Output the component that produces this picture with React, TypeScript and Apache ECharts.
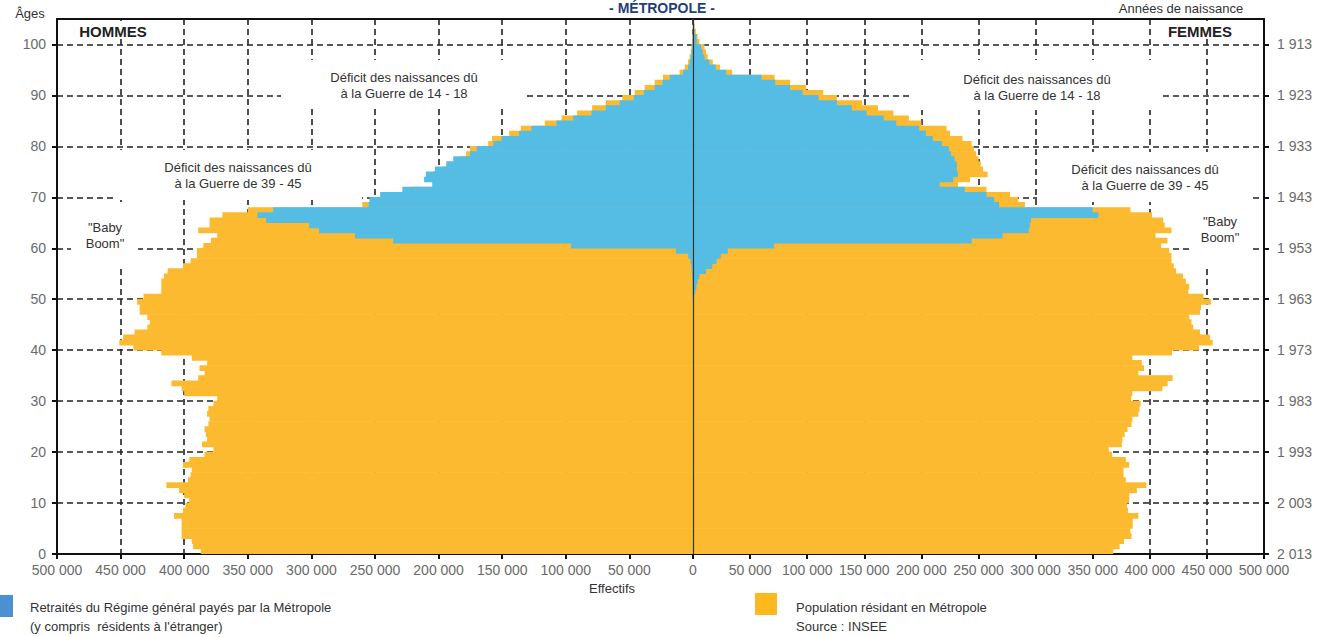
import React, { useEffect, useRef } from "react";
import * as echarts from "echarts";

// ---------- DATA ----------
const AGES: string[] = [
  "0","1","2","3","4","5","6","7","8","9","10","11","12","13","14","15","16","17","18","19",
  "20","21","22","23","24","25","26","27","28","29","30","31","32","33","34","35","36","37","38","39",
  "40","41","42","43","44","45","46","47","48","49","50","51","52","53","54","55","56","57","58","59",
  "60","61","62","63","64","65","66","67","68","69","70","71","72","73","74","75","76","77","78","79",
  "80","81","82","83","84","85","86","87","88","89","90","91","92","93","94","95","96","97","98","99",
  "100","101","102","103","104",
];
const AGE_TICKS = [0, 10, 20, 30, 40, 50, 60, 70, 80, 90, 100];
const REFERENCE_YEAR = 2013;

// values in thousands, ages 0 .. 104
const menPopulation = [
  387, 393, 394, 402, 402, 402, 402, 408, 401, 399,
  396, 400, 404, 414, 397, 395, 394, 401, 396, 384,
  377, 386, 382, 383, 384, 381, 380, 382, 381, 377,
  374, 400, 402, 410, 389, 384, 388, 382, 394, 418,
  440, 451, 448, 439, 429, 427, 429, 435, 435, 437,
  432, 418, 418, 418, 416, 413, 401, 395, 390, 390,
  385, 379, 374, 389, 380, 380, 370, 350, 260, 250,
  240, 222, 200, 205, 204, 197, 188, 183, 178.5, 175.4,
  161, 158, 144.5, 135.4, 116.5, 103.4, 91.1, 79.3, 68.6, 55.5,
  45.8, 38, 30.1, 23.6, 10.5, 6.5, 3.9, 2.6, 1.8, 1.2,
  0.8, 0.5, 0.3, 0.2, 0.1,
];
const menRetirees = [
  0, 0, 0, 0, 0, 0, 0, 0, 0, 0,
  0, 0, 0, 0, 0, 0, 0, 0, 0, 0,
  0, 0, 0, 0, 0, 0, 0, 0, 0, 0,
  0, 0, 0, 0, 0, 0, 0, 0, 0, 0,
  0, 0, 0, 0, 0, 0, 0, 0, 0, 0,
  0.3, 0.4, 0.5, 0.6, 0.8, 1.0, 1.3, 2.0, 3.7, 13.4,
  95.9, 235.8, 265.7, 294, 301.8, 335.6, 342.4, 330, 255, 254.4,
  246, 228.5, 205, 211.4, 210, 202.9, 194, 188.5, 175.4, 170,
  157, 150.5, 136.7, 127, 107.3, 94.2, 79.8, 68.6, 57.6, 46.6,
  38.7, 30.1, 24, 18.3, 7.9, 3.9, 2.6, 1.8, 1.2, 0.8,
  0.5, 0.3, 0.2, 0.1, 0.05,
];
const womenPopulation = [
  368, 373.6, 377.4, 384, 383, 385, 385, 390, 381, 380,
  382, 382, 388.7, 397, 379, 377, 377, 382, 379, 367,
  364, 375.5, 376, 378, 380.5, 384, 384.7, 390, 391, 392,
  383.6, 384.7, 411, 415.7, 420, 390, 395, 393, 384.7, 419.5,
  443, 455, 452.7, 444, 438, 436.5, 434.6, 444, 445, 453.5,
  447, 433.8, 434.6, 431.6, 429, 423, 421, 419, 419, 417,
  410, 415.5, 405, 419, 413, 411.7, 402, 383, 290.7, 284.8,
  277.6, 257, 232, 242.5, 258, 254, 252, 250, 248, 246,
  244, 236, 225, 222, 200, 189, 175.5, 162, 148, 126,
  114, 99, 85, 71.5, 34.3, 23.7, 17.3, 12.9, 11.4, 10,
  5.6, 4.1, 2.5, 1.5, 0.8,
];
const womenRetirees = [
  0, 0, 0, 0, 0, 0, 0, 0, 0, 0,
  0, 0, 0, 0, 0, 0, 0, 0, 0, 0,
  0, 0, 0, 0, 0, 0, 0, 0, 0, 0,
  0, 0, 0, 0, 0, 0, 0, 0, 0, 0,
  0, 0, 0, 0, 0, 0, 0, 0, 0, 0.5,
  1, 2, 3, 4, 5.6, 11.3, 17, 20.7, 24.4, 30.5,
  71, 244, 271, 294, 295, 296, 355, 350, 268, 263.6,
  257, 238, 216, 228, 232, 231, 231, 229, 226, 224,
  218, 210, 204, 198, 178, 167, 152, 139, 126, 110,
  96, 85, 72, 60, 29, 20, 14.4, 10, 8.5, 7,
  3.2, 3, 1.5, 1, 0.5,
];

const SERIES_RETIREES = "Retraités du Régime général payés par la Métropole";
const SERIES_POPULATION = "Population résidant en Métropole";

// ---------- STYLE ----------
const FONT = "'Liberation Sans', Arial, Helvetica, sans-serif";
const ORANGE = "#FCBA30";
const BLUE = "#55BDE4";
const LEGEND_BLUE = "#4A90D2";
const LEGEND_ORANGE = "#FDB81E";
const AXIS_COLOR = "#111";
const GRID_COLOR = "#222";
const LABEL_COLOR = "#6a6a6a";
const TEXT_COLOR = "#333";

const fmt = (v: number) => String(v).replace(/\B(?=(\d{3})+(?!\d))/g, " ");
// thousands -> persons (zero values are left empty)
const k = (arr: number[]) => arr.map((v) => (v === 0 ? null : Math.round(v * 1000)));

const dashed = { color: GRID_COLOR, width: 1.6, type: [6, 4] as any };

function whiteBox(x: number, y: number, w: number, h: number) {
  return { type: "rect", z: 1, silent: true, shape: { x, y, width: w, height: h }, style: { fill: "#fff" } };
}
function label(text: string, x: number, y: number, opts: any = {}) {
  return {
    type: "text",
    z: 10,
    silent: true,
    x,
    y,
    style: {
      text,
      fill: opts.fill || TEXT_COLOR,
      font: opts.font || `13px ${FONT}`,
      textAlign: opts.align || "center",
      textVerticalAlign: "middle",
      align: opts.align || "center",
      verticalAlign: "middle",
      lineHeight: opts.lineHeight || 16,
    },
  };
}

export default function App() {
  const ref = useRef<HTMLDivElement>(null);

  useEffect(() => {
    document.body.style.margin = "0";
    document.body.style.overflow = "hidden";
    if (!ref.current) return;
    const chart = echarts.init(ref.current, undefined, { renderer: "svg" });

    const valueX = (gridIndex: number, inverse: boolean, hideMin: boolean) => ({
      gridIndex,
      type: "value",
      min: 0,
      max: 500000,
      interval: 50000,
      inverse,
      position: "bottom",
      axisLine: { show: true, onZero: false, lineStyle: { color: AXIS_COLOR, width: 2 } },
      axisTick: { show: true, length: 5, lineStyle: { color: AXIS_COLOR, width: 2 } },
      axisLabel: {
        color: LABEL_COLOR,
        fontSize: 14,
        fontFamily: FONT,
        margin: 9,
        showMinLabel: !hideMin,
        formatter: (v: number) => fmt(v),
      },
      splitLine: { show: true, lineStyle: dashed },
    });
    const topX = (gridIndex: number, inverse: boolean) => ({
      gridIndex,
      type: "value",
      min: 0,
      max: 500000,
      inverse,
      position: "top",
      axisLine: { show: true, onZero: false, lineStyle: { color: AXIS_COLOR, width: 2 } },
      axisTick: { show: false },
      axisLabel: { show: false },
      splitLine: { show: false },
    });
    const valueY = (gridIndex: number, position: string, formatter: (v: number) => string) => ({
      gridIndex,
      type: "value",
      min: 0,
      max: 105,
      interval: 10,
      position,
      axisLine: { show: true, onZero: false, lineStyle: { color: AXIS_COLOR, width: 2 } },
      axisTick: { show: true, length: 5, customValues: AGE_TICKS, lineStyle: { color: AXIS_COLOR, width: 2 } },
      axisLabel: {
        color: LABEL_COLOR,
        fontSize: 14,
        fontFamily: FONT,
        margin: position === "left" ? 11 : 13,
        customValues: AGE_TICKS,
        formatter: (v: number) => (v > 100 ? "" : formatter(v)),
      },
      splitLine: { show: true, lineStyle: dashed },
    });

    // bars slightly taller than their band so neighbouring ages meet without seams
    const barCommon = { type: "bar", barGap: "-100%", barWidth: "112%", silent: true };

    chart.setOption({
      animation: false,
      textStyle: { fontFamily: FONT },
      grid: [
        { left: 57, top: 19, width: 636, height: 535, containLabel: false },
        { left: 693, top: 19, width: 571, height: 535, containLabel: false },
      ],
      xAxis: [valueX(0, true, false), topX(0, true), valueX(1, false, true), topX(1, false)],
      yAxis: [
        {
          gridIndex: 0,
          type: "category",
          data: AGES,
          position: "right",
          axisLine: { show: false },
          axisTick: { show: false },
          axisLabel: { show: false },
          splitLine: { show: false },
        },
        valueY(0, "left", (v) => String(v)),
        {
          gridIndex: 1,
          type: "category",
          data: AGES,
          position: "left",
          z: 5,
          axisLine: { show: true, onZero: false, lineStyle: { color: "#333", width: 1.2 } },
          axisTick: { show: false },
          axisLabel: { show: false },
          splitLine: { show: false },
        },
        valueY(1, "right", (v) => fmt(REFERENCE_YEAR - v)),
      ],
      series: [
        { ...barCommon, name: SERIES_POPULATION, xAxisIndex: 0, yAxisIndex: 0, data: k(menPopulation), itemStyle: { color: ORANGE } },
        { ...barCommon, name: SERIES_RETIREES, xAxisIndex: 0, yAxisIndex: 0, data: k(menRetirees), itemStyle: { color: BLUE } },
        { ...barCommon, name: SERIES_POPULATION, xAxisIndex: 2, yAxisIndex: 2, data: k(womenPopulation), itemStyle: { color: ORANGE } },
        { ...barCommon, name: SERIES_RETIREES, xAxisIndex: 2, yAxisIndex: 2, data: k(womenRetirees), itemStyle: { color: BLUE } },
      ],
      graphic: [
        // white boxes behind annotations (hide grid lines)
        whiteBox(281, 60, 246, 48),
        whiteBox(911, 60, 250, 50),
        whiteBox(114, 150, 248, 50),
        whiteBox(1037, 152, 216, 50),
        whiteBox(71, 202, 67, 64),
        whiteBox(1189, 202, 60, 64),
        whiteBox(68, 21, 86, 18),
        whiteBox(1156, 21, 88, 18),
        // annotations
        label("Déficit des naissances dû\nà la Guerre de 14 - 18", 404, 85),
        label("Déficit des naissances dû\nà la Guerre de 14 - 18", 1037, 87),
        label("Déficit des naissances dû\nà la Guerre de 39 - 45", 238, 175),
        label("Déficit des naissances dû\nà la Guerre de 39 - 45", 1145, 177),
        label("\"Baby\nBoom\"", 105, 235),
        label("\"Baby\nBoom\"", 1220, 229),
        label("HOMMES", 113, 31, { font: `bold 15px ${FONT}`, fill: "#222" }),
        label("FEMMES", 1200, 31, { font: `bold 15px ${FONT}`, fill: "#222" }),
        // titles & axis names
        label("- MÉTROPOLE -", 662, 8, { font: `bold 14px ${FONT}`, fill: "#1F3F7A" }),
        label("Âges", 30, 13),
        label("Années de naissance", 1181, 8),
        label("Effectifs", 612, 588),
        // legend
        { type: "rect", z: 10, silent: true, shape: { x: -10, y: 595, width: 23, height: 22 }, style: { fill: LEGEND_BLUE } },
        label(SERIES_RETIREES, 30, 607, { align: "left" }),
        label("(y compris  résidents à l'étranger)", 30, 626, { align: "left" }),
        { type: "rect", z: 10, silent: true, shape: { x: 755, y: 593, width: 22, height: 22 }, style: { fill: LEGEND_ORANGE } },
        label(SERIES_POPULATION, 796, 607, { align: "left" }),
        label("Source : INSEE", 796, 626, { align: "left" }),
      ],
    });

    return () => chart.dispose();
  }, []);

  return <div ref={ref} style={{ width: 1326, height: 637 }} />;
}
